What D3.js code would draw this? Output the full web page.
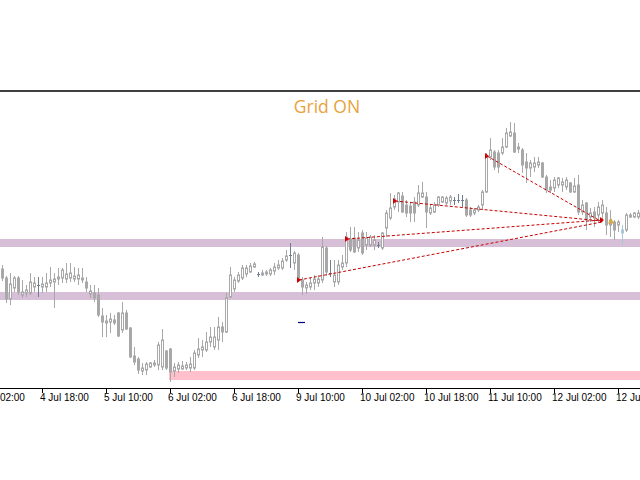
<!DOCTYPE html>
<html><head><meta charset="utf-8">
<script src="https://cdn.jsdelivr.net/npm/d3@7"></script>
<style>html,body{margin:0;padding:0;background:#fff;overflow:hidden}</style>
</head><body>
<svg id="chart" width="640" height="480"></svg>
<script>
// ---- data (H1 bars, 4 Jul 08:00 onward) ----
const opens = [1.1522,1.1513,1.1492,1.1503,1.1513,1.1496,1.1498,1.1498,1.1504,1.1506,
1.1504,1.1504,1.1508,1.1509,1.1512,1.1513,1.1512,1.1513,1.1512,1.1512,
1.1513,1.1509,1.1497,1.1498,1.1496,1.1475,1.1470,1.1469,1.1471,1.1478,
1.1461,1.1478,1.1463,1.1435,1.1432,1.1420,1.1421,1.1424,1.1426,1.1426,
1.1424,1.1440,1.1442,1.1420,1.1422,1.1422,1.1423,1.1423,1.1423,1.1436,
1.1441,1.1441,1.1449,1.1444,1.1451,1.1464,1.1459,1.1494,1.1502,1.1510,
1.1513,1.1517,1.1519,1.1524,1.1517,1.1516,1.1517,1.1517,1.1520,1.1523,
1.1523,1.1531,1.1536,1.1528,1.1536,1.1511,1.1503,1.1504,1.1508,1.1508,
1.1511,1.1543,1.1518,1.1509,1.1509,1.1524,1.1528,1.1552,1.1553,1.1543,
1.1558,1.1546,1.1546,1.1546,1.1546,1.1543,1.1563,1.1573,1.1584,1.1589,
1.1595,1.1586,1.1585,1.1589,1.1586,1.1594,1.1594,1.1578,1.1579,1.1586,
1.1589,1.1588,1.1590,1.1591,1.1591,1.1591,1.1591,1.1581,1.1578,1.1581,
1.1586,1.1599,1.1634,1.1639,1.1638,1.1638,1.1644,1.1655,1.1658,1.1642,
1.1641,1.1629,1.1623,1.1624,1.1626,1.1628,1.1614,1.1604,1.1603,1.1606,
1.1606,1.1604,1.1608,1.1599,1.1606,1.1579,1.1588,1.1574,1.1579,1.1576,
1.1578,1.1578,1.1571,1.1569,1.1566,1.1561,1.1561,1.1574,1.1574,1.1574];
const highs = [1.1526,1.1515,1.1518,1.1515,1.1515,1.1511,1.1506,1.1518,1.1514,1.1514,
1.1514,1.1518,1.1524,1.1518,1.1523,1.1523,1.1528,1.1528,1.1524,1.1523,
1.1523,1.1514,1.1506,1.1506,1.1503,1.1483,1.1476,1.1478,1.1476,1.1479,
1.1489,1.1481,1.1464,1.1444,1.1434,1.1428,1.1429,1.1429,1.1431,1.1449,
1.1462,1.1441,1.1443,1.1428,1.1429,1.1430,1.1429,1.1434,1.1441,1.1453,
1.1451,1.1459,1.1464,1.1464,1.1474,1.1469,1.1498,1.1524,1.1514,1.1519,
1.1526,1.1526,1.1528,1.1529,1.1519,1.1521,1.1521,1.1523,1.1528,1.1531,
1.1533,1.1541,1.1548,1.1540,1.1538,1.1514,1.1509,1.1514,1.1516,1.1516,
1.1554,1.1545,1.1531,1.1531,1.1531,1.1536,1.1559,1.1564,1.1564,1.1559,
1.1561,1.1559,1.1556,1.1556,1.1549,1.1559,1.1581,1.1598,1.1596,1.1599,
1.1599,1.1591,1.1589,1.1594,1.1606,1.1609,1.1599,1.1586,1.1589,1.1595,
1.1595,1.1595,1.1596,1.1594,1.1597,1.1596,1.1593,1.1584,1.1583,1.1586,
1.1601,1.1638,1.1653,1.1641,1.1641,1.1653,1.1663,1.1669,1.1668,1.1648,
1.1643,1.1638,1.1631,1.1634,1.1634,1.1629,1.1616,1.1611,1.1614,1.1614,
1.1613,1.1614,1.1609,1.1613,1.1616,1.1591,1.1589,1.1583,1.1584,1.1589,
1.1591,1.1584,1.1581,1.1571,1.1571,1.1566,1.1578,1.1578,1.1579,1.1581];
const lows = [1.1510,1.1488,1.1486,1.1499,1.1496,1.1493,1.1494,1.1496,1.1499,1.1494,
1.1498,1.1499,1.1504,1.1483,1.1506,1.1508,1.1508,1.1509,1.1509,1.1506,
1.1508,1.1499,1.1493,1.1489,1.1474,1.1454,1.1454,1.1458,1.1466,1.1454,
1.1458,1.1461,1.1433,1.1426,1.1417,1.1416,1.1416,1.1423,1.1424,1.1421,
1.1421,1.1421,1.1409,1.1414,1.1418,1.1421,1.1421,1.1419,1.1421,1.1433,
1.1434,1.1439,1.1444,1.1441,1.1441,1.1449,1.1458,1.1493,1.1499,1.1508,
1.1511,1.1514,1.1518,1.1523,1.1514,1.1515,1.1515,1.1515,1.1516,1.1521,
1.1521,1.1529,1.1523,1.1521,1.1509,1.1496,1.1497,1.1501,1.1501,1.1504,
1.1508,1.1515,1.1514,1.1504,1.1506,1.1521,1.1524,1.1539,1.1538,1.1539,
1.1536,1.1541,1.1544,1.1541,1.1543,1.1541,1.1554,1.1571,1.1581,1.1579,
1.1578,1.1574,1.1569,1.1569,1.1584,1.1593,1.1563,1.1576,1.1578,1.1584,
1.1588,1.1586,1.1586,1.1586,1.1588,1.1584,1.1574,1.1574,1.1576,1.1579,
1.1581,1.1598,1.1631,1.1621,1.1618,1.1636,1.1643,1.1654,1.1638,1.1638,
1.1618,1.1608,1.1614,1.1619,1.1623,1.1613,1.1598,1.1598,1.1599,1.1603,
1.1599,1.1601,1.1598,1.1598,1.1576,1.1576,1.1561,1.1569,1.1564,1.1568,
1.1569,1.1556,1.1554,1.1551,1.1559,1.1546,1.1559,1.1573,1.1573,1.1572];
const closes = [1.1513,1.1492,1.1507,1.1513,1.1499,1.1499,1.1501,1.1509,1.1508,1.1506,
1.1507,1.1508,1.1511,1.1512,1.1514,1.1521,1.1517,1.1518,1.1515,1.1516,
1.1511,1.1503,1.1500,1.1493,1.1476,1.1469,1.1468,1.1472,1.1468,1.1455,
1.1478,1.1462,1.1434,1.1429,1.1421,1.1423,1.1427,1.1428,1.1428,1.1446,
1.1451,1.1423,1.1419,1.1424,1.1426,1.1425,1.1426,1.1427,1.1438,1.1442,
1.1444,1.1449,1.1454,1.1454,1.1464,1.1459,1.1493,1.1516,1.1511,1.1516,
1.1523,1.1523,1.1525,1.1527,1.1517,1.1518,1.1519,1.1521,1.1524,1.1526,
1.1530,1.1535,1.1536,1.1538,1.1513,1.1504,1.1506,1.1508,1.1512,1.1512,
1.1544,1.1519,1.1518,1.1516,1.1526,1.1528,1.1554,1.1541,1.1539,1.1551,
1.1538,1.1553,1.1554,1.1551,1.1546,1.1558,1.1578,1.1583,1.1592,1.1598,
1.1579,1.1578,1.1578,1.1578,1.1598,1.1598,1.1579,1.1583,1.1586,1.1594,
1.1594,1.1593,1.1594,1.1591,1.1591,1.1591,1.1576,1.1576,1.1581,1.1584,
1.1599,1.1634,1.1641,1.1624,1.1624,1.1644,1.1658,1.1659,1.1639,1.1644,
1.1626,1.1623,1.1628,1.1628,1.1629,1.1614,1.1601,1.1601,1.1611,1.1613,
1.1609,1.1611,1.1599,1.1605,1.1579,1.1586,1.1571,1.1578,1.1573,1.1584,
1.1586,1.1566,1.1566,1.1561,1.1569,1.1558,1.1576,1.1576,1.1578,1.1578];
const highlightBar = [155];

// x-axis tick labels and the bar index they sit on
const tickLabels = ["4 Jul 02:00","4 Jul 18:00","5 Jul 10:00","6 Jul 02:00","6 Jul 18:00","9 Jul 10:00","10 Jul 02:00","10 Jul 18:00","11 Jul 10:00","12 Jul 02:00","12 Jul 18:00"];
const tickBars = [-6,10,26,42,58,74,90,106,122,138,154];

// horizontal zones (price top, price bottom, starting bar)
const zoneTop = [1.1552,1.1499,1.1420];
const zoneBottom = [1.1544,1.1491,1.1411];
const zoneStart = [-1,-1,41.75];
const zoneColor = ["#d8bfd8","#d8bfd8","#ffc0cb"];

// grid trade links
const linkStartBar = [74.25,86.25,98.25,121.25];
const linkStartPrice = [1.1511,1.1552,1.1590,1.1635];
const linkEndBar = [150,150,150,150];
const linkEndPrice = [1.1569,1.1571,1.1570,1.1569];

const titleText = "Grid ON";

// ---- drawing ----
const W = 640, H = 480;
const svg = d3.select("#chart");
const x = d3.scaleLinear().domain([0,159]).range([2,638]);
const y = d3.scaleLinear().domain([1.1400,1.1700]).range([391,91]);

// zones
svg.append("g").selectAll("rect").data(zoneTop).join("rect")
  .attr("x",(d,i)=>Math.max(0,x(zoneStart[i])))
  .attr("width",(d,i)=>W-Math.max(0,x(zoneStart[i])))
  .attr("y",d=>y(d))
  .attr("height",(d,i)=>y(zoneBottom[i])-y(d))
  .attr("fill",(d,i)=>zoneColor[i]);

// candles
const bars = d3.range(opens.length);
const gC = svg.append("g");
function col(i){
  if(highlightBar.includes(i)) return "#a9c6d8";
  if(closes[i]===opens[i]) return "#6f7f8f";
  return "#a8a8a8";
}
gC.selectAll("line").data(bars).join("line")
  .attr("x1",i=>Math.round(x(i))+0.5).attr("x2",i=>Math.round(x(i))+0.5)
  .attr("y1",i=>y(highs[i])).attr("y2",i=>y(lows[i]))
  .attr("stroke",i=>col(i)).attr("stroke-width",1);
gC.selectAll("rect").data(bars.filter(i=>closes[i]!==opens[i])).join("rect")
  .attr("x",i=>Math.round(x(i))-0.5).attr("width",2)
  .attr("y",i=>y(Math.max(opens[i],closes[i])))
  .attr("height",i=>Math.max(1,Math.abs(y(opens[i])-y(closes[i]))))
  .attr("fill",i=>closes[i]>opens[i]?"#ffffff":col(i))
  .attr("stroke",i=>col(i)).attr("stroke-width",1);
gC.selectAll("line.doji").data(bars.filter(i=>closes[i]===opens[i])).join("line")
  .attr("class","doji")
  .attr("x1",i=>Math.round(x(i))-1).attr("x2",i=>Math.round(x(i))+2)
  .attr("y1",i=>Math.round(y(opens[i]))+0.5).attr("y2",i=>Math.round(y(opens[i]))+0.5)
  .attr("stroke",i=>col(i));

// links
const gL = svg.append("g");
gL.selectAll("line").data(linkStartBar).join("line")
  .attr("x1",d=>x(d)).attr("y1",(d,i)=>y(linkStartPrice[i]))
  .attr("x2",(d,i)=>x(linkEndBar[i])).attr("y2",(d,i)=>y(linkEndPrice[i]))
  .attr("stroke","#c80000").attr("stroke-width",1).attr("stroke-dasharray","3,2");
function arrow(px,py){
  return `M${px-2},${py-3}L${px+2},${py}L${px-2},${py+3}Z`;
}
gL.selectAll("path.s").data(linkStartBar).join("path").attr("class","s")
  .attr("d",(d,i)=>arrow(x(d),y(linkStartPrice[i])))
  .attr("fill","#d00000");
gL.append("path").attr("d",arrow(x(linkEndBar[0]),y(linkEndPrice[1]))).attr("fill","#d00000");
gL.append("path").attr("d",`M${x(152.25)-3},${y(1.1570)+2.5}L${x(152.25)},${y(1.1570)-3}L${x(152.25)+3},${y(1.1570)+2.5}Z`).attr("fill","#d9a845");
// small navy level mark
gL.append("line").attr("x1",x(74)).attr("x2",x(75.75))
  .attr("y1",Math.round(y(1.1469))+0.5).attr("y2",Math.round(y(1.1469))+0.5)
  .attr("stroke","#000080").attr("stroke-width",1.2);

// top border
svg.append("line").attr("x1",0).attr("x2",W).attr("y1",91).attr("y2",91)
  .attr("stroke","#000").attr("stroke-width",1.3);

// title
svg.append("text").attr("x",327).attr("y",113).attr("text-anchor","middle")
  .attr("font-family","Open Sans").attr("font-size","17.5px")
  .attr("fill","#e9a23e").text(titleText);

// x axis
const axisY = 388;
svg.append("line").attr("x1",0).attr("x2",W).attr("y1",axisY+0.5).attr("y2",axisY+0.5)
  .attr("stroke","#000").attr("stroke-width",1.2);
const gT = svg.append("g");
gT.selectAll("line").data(tickBars).join("line")
  .attr("x1",d=>Math.round(x(d))+0.5).attr("x2",d=>Math.round(x(d))+0.5)
  .attr("y1",axisY).attr("y2",axisY+5).attr("stroke","#000");
gT.selectAll("text").data(tickBars).join("text")
  .attr("x",d=>x(d)-2).attr("y",axisY+13)
  .attr("font-family","Liberation Sans, Arial, sans-serif").attr("font-size","10px")
  .attr("fill","#000").text((d,i)=>tickLabels[i]);
</script>
</body></html>
